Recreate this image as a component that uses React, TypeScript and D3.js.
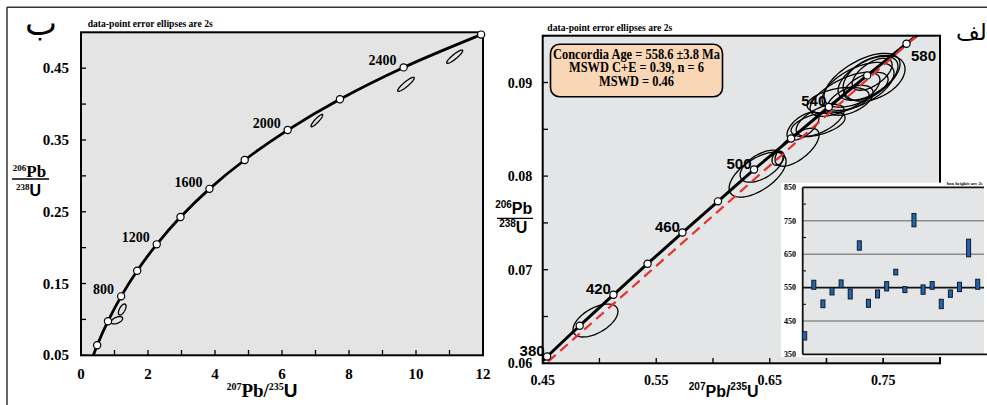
import * as d3 from "d3";

// ---- left panel (ب): whole concordia, markers every 200 Ma ----
const fullAges = [400, 600, 800, 1000, 1200, 1400, 1600, 1800, 2000, 2200, 2400, 2600];
const fullX = [0.4826, 0.8056, 1.1977, 1.6775, 2.2603, 2.9699, 3.834, 4.8866, 6.1688, 7.7296, 9.6298, 11.944];
const fullY = [0.064, 0.0975, 0.1321, 0.1678, 0.2046, 0.2426, 0.2819, 0.3221, 0.3638, 0.4068, 0.4511, 0.4968];
const fullLabelled = [800, 1200, 1600, 2000, 2400];
// where the curve comes in through the bottom axis
const fullStartX = 0.37;
const fullStartY = 0.05;

const leftEllX = [1.069, 1.23, 7.04, 9.7, 11.155];
const leftEllY = [0.0988, 0.1138, 0.377, 0.4275, 0.466];
const leftEllSx = [0.174, 0.114, 0.175, 0.248, 0.239];
const leftEllSy = [0.0051, 0.0077, 0.0086, 0.0098, 0.0093];
const leftEllRho = [0.5, 0.6, 0.9, 0.9, 0.9];

const leftXTicks = [0, 2, 4, 6, 8, 10, 12];
const leftYTicks = [0.05, 0.15, 0.25, 0.35, 0.45];

// ---- right panel (الف): close-up 380-580 Ma ----
const zoomAges = [380, 400, 420, 440, 460, 480, 500, 520, 540, 560, 580];
const zoomX = [0.4539, 0.4826, 0.5123, 0.5424, 0.5731, 0.6044, 0.6362, 0.6688, 0.702, 0.7359, 0.7705];
const zoomY = [0.06072, 0.06401, 0.06732, 0.07064, 0.07397, 0.0773, 0.0807, 0.08401, 0.08738, 0.09076, 0.09414];
const zoomLabelled = [380, 420, 460, 500, 540, 580];
// the curve runs on past both ends of the window
const zoomEndsX = [0.4255, 0.8056];
const zoomEndsY = [0.05743, 0.09754];
// red dashed line
const redX = [0.4549, 0.7795];
const redY = [0.0602, 0.095];

const ellX = [0.4965, 0.6393, 0.6428, 0.6573, 0.6741, 0.6793, 0.6926, 0.6944, 0.7102, 0.7208, 0.7163, 0.7278, 0.7313, 0.7366, 0.7419, 0.7349, 0.7402];
const ellY = [0.06457, 0.08015, 0.08106, 0.08191, 0.08308, 0.08533, 0.08554, 0.08597, 0.0881, 0.0881, 0.08874, 0.08959, 0.09024, 0.09045, 0.09045, 0.08959, 0.09088];
const ellSx = [0.0198, 0.0251, 0.0189, 0.0053, 0.0194, 0.0141, 0.0238, 0.0211, 0.0273, 0.0203, 0.0308, 0.0317, 0.0335, 0.0264, 0.0273, 0.0194, 0.0176];
const ellSy = [0.00176, 0.0024, 0.00171, 0.00075, 0.00203, 0.00149, 0.00133, 0.00171, 0.00139, 0.0016, 0.00235, 0.00256, 0.00288, 0.00235, 0.00245, 0.00149, 0.00171];
const ellRho = [0.55, 0.6, 0.55, 0.3, 0.65, 0.6, 0.5, 0.6, 0.4, 0.5, 0.65, 0.55, 0.6, 0.55, 0.4, 0.5, 0.6];

const zoomXTicks = [0.45, 0.55, 0.65, 0.75];
const zoomYTicks = [0.06, 0.07, 0.08, 0.09];

const ageBox = ["Concordia Age = 558.6 \u00b13.8 Ma", "MSWD  C+E = 0.39, n = 6", "MSWD = 0.46"];

// ---- inset: box heights (2s) ----
const boxLow = [393, 545, 490, 528, 550, 516, 662, 491, 519, 540, 588, 535, 732, 530, 545, 487, 521, 538, 642, 545];
const boxHigh = [418, 572, 513, 550, 573, 546, 690, 515, 543, 568, 605, 553, 772, 558, 568, 515, 543, 566, 695, 575];
const insetTicks = [350, 450, 550, 650, 750, 850];
const insetGrid = [450, 650, 750];
const insetMean = 550;

const SERIF = "'Liberation Serif', 'Times New Roman', serif";
const SANS = "'Liberation Sans', Arial, sans-serif";

function ellipsePath(x: any, y: any, cx: number, cy: number, sx: number, sy: number, rho: number) {
  const k = Math.sqrt(1 - rho * rho);
  const pts = d3.range(73).map((i) => {
    const t = (i / 72) * 2 * Math.PI;
    return [x(cx + sx * Math.cos(t)), y(cy + sy * (rho * Math.cos(t) + k * Math.sin(t)))] as [number, number];
  });
  return d3.line()(pts) + "Z";
}

function LeftPanel() {
  const x = d3.scaleLinear().domain([0, 12]).range([81, 483]);
  const y = d3.scaleLinear().domain([0.05, 0.5]).range([355.3, 32.3]);
  const pts: [number, number][] = [[x(fullStartX), y(fullStartY)], ...fullX.map((v, i) => [x(v), y(fullY[i])] as [number, number])];
  const curve = d3.line().curve(d3.curveCatmullRom.alpha(0.5))(pts);
  return (
    <g>
      <text x={87.7} y={26.5} fontFamily={SERIF} fontWeight="bold" fontSize={9.5} textLength={125} lengthAdjust="spacingAndGlyphs">
        data-point   error ellipses are 2s
      </text>
      <text x={41} y={35} textAnchor="middle" fontFamily="'DejaVu Sans', sans-serif" fontSize={34}>ب</text>
      <rect x={81} y={32.3} width={402} height={323} fill="#e4e4e4" />
      {d3.range(0, 13).map((t) => (
        <line key={t} x1={x(t)} x2={x(t)} y1={355.3} y2={350} stroke="#000" strokeWidth={1.3} />
      ))}
      {d3.range(0.1, 0.45, 0.1).concat(leftYTicks).map((t, i) => (
        <line key={i} x1={81} x2={86} y1={y(t)} y2={y(t)} stroke="#000" strokeWidth={1.3} />
      ))}
      <rect x={81} y={32.3} width={402} height={323} fill="none" stroke="#000" strokeWidth={2} />
      {leftEllX.map((cx, i) => (
        <path key={i} d={ellipsePath(x, y, cx, leftEllY[i], leftEllSx[i], leftEllSy[i], leftEllRho[i])} fill="none" stroke="#000" strokeWidth={1.3} />
      ))}
      <path d={curve || ""} fill="none" stroke="#000" strokeWidth={2.8} />
      {fullX.map((v, i) => (
        <circle key={i} cx={x(v)} cy={y(fullY[i])} r={3.6} fill="#fff" stroke="#000" strokeWidth={1.2} />
      ))}
      {fullAges.map((a, i) =>
        fullLabelled.includes(a) ? (
          <text key={a} x={x(fullX[i]) - 7} y={y(fullY[i]) - 2.3} textAnchor="end" fontFamily={SERIF} fontWeight="bold" fontSize={14}>
            {a}
          </text>
        ) : null
      )}
      {leftYTicks.map((t) => (
        <text key={t} x={69} y={y(t) + 5} textAnchor="end" fontFamily={SERIF} fontWeight="bold" fontSize={15}>
          {t.toFixed(2)}
        </text>
      ))}
      {leftXTicks.map((t) => (
        <text key={t} x={x(t)} y={378.5} textAnchor="middle" fontFamily={SERIF} fontWeight="bold" fontSize={15}>
          {t}
        </text>
      ))}
      <text x={262} y={397} textAnchor="middle" fontFamily={SERIF} fontWeight="bold" fontSize={19}>
        <tspan fontSize={10} dy={-7}>207</tspan>
        <tspan dy={7}>Pb/</tspan>
        <tspan fontSize={10} dy={-7}>235</tspan>
        <tspan dy={7} fontFamily={SANS}>U</tspan>
      </text>
      <text x={29.5} y={177} textAnchor="middle" fontFamily={SERIF} fontWeight="bold" fontSize={17}>
        <tspan fontSize={9} dy={-6}>206</tspan>
        <tspan dy={6}>Pb</tspan>
      </text>
      <line x1={12} x2={49} y1={179} y2={179} stroke="#000" strokeWidth={1.3} />
      <text x={28.5} y={196} textAnchor="middle" fontFamily={SERIF} fontWeight="bold" fontSize={16}>
        <tspan fontSize={9} dy={-6}>238</tspan>
        <tspan dy={6} fontFamily={SANS}>U</tspan>
      </text>
    </g>
  );
}

function RightPanel() {
  const x = d3.scaleLinear().domain([0.45, 0.8]).range([542.7, 940]);
  const y = d3.scaleLinear().domain([0.06, 0.095]).range([363.3, 35.7]);
  const pts: [number, number][] = [
    [x(zoomEndsX[0]), y(zoomEndsY[0])],
    ...zoomX.map((v, i) => [x(v), y(zoomY[i])] as [number, number]),
    [x(zoomEndsX[1]), y(zoomEndsY[1])],
  ];
  const curve = d3.line().curve(d3.curveCatmullRom.alpha(0.5))(pts);
  const red = d3.line()([[x(redX[0]), y(redY[0])], [x(redX[1]), y(redY[1])]]);

  const iy = d3.scaleLinear().domain([350, 850]).range([354.4, 187.4]);
  const ix = d3.scaleLinear().domain([0, boxLow.length - 1]).range([804.7, 977.7]);

  return (
    <g>
      <defs>
        <clipPath id="zoomClip">
          <rect x={542.7} y={35.7} width={397.3} height={327.6} />
        </clipPath>
      </defs>
      <text x={547.3} y={31} fontFamily={SERIF} fontWeight="bold" fontSize={9.5} textLength={125} lengthAdjust="spacingAndGlyphs">
        data-point   error ellipses are 2s
      </text>
      <text x={956} y={40} fontFamily="'DejaVu Sans', sans-serif" fontSize={23}>الف</text>
      <rect x={542.7} y={35.7} width={397.3} height={327.6} fill="#e4e5e6" />
      {d3.range(0, 8).map((i) => {
        const t = 0.45 + i * 0.05;
        return <line key={i} x1={x(t)} x2={x(t)} y1={363.3} y2={358} stroke="#000" strokeWidth={1.3} />;
      })}
      {d3.range(0, 8).map((i) => {
        const t = 0.06 + i * 0.005;
        return <line key={i} x1={542.7} x2={548} y1={y(t)} y2={y(t)} stroke="#000" strokeWidth={1.3} />;
      })}
      <g clipPath="url(#zoomClip)">
        {ellX.map((cx, i) => (
          <path key={i} d={ellipsePath(x, y, cx, ellY[i], ellSx[i], ellSy[i], ellRho[i])} fill="none" stroke="#000" strokeWidth={1.3} />
        ))}
        <path d={curve || ""} fill="none" stroke="#000" strokeWidth={3} />
        <path d={red || ""} fill="none" stroke="#e8312b" strokeWidth={2.2} strokeDasharray="10 6" />
      </g>
      {zoomX.map((v, i) => (
        <circle key={i} cx={x(v)} cy={y(zoomY[i])} r={3.6} fill="#fff" stroke="#000" strokeWidth={1.2} />
      ))}
      <rect x={542.7} y={35.7} width={397.3} height={327.6} fill="none" stroke="#000" strokeWidth={2} />
      {zoomAges.map((a, i) => {
        if (!zoomLabelled.includes(a)) return null;
        const last = i === zoomAges.length - 1;
        return (
          <text
            key={a}
            x={x(zoomX[i]) + (last ? 4.5 : -2.5)}
            y={y(zoomY[i]) + (last ? 17 : -1)}
            textAnchor={last ? "start" : "end"}
            fontFamily={SANS}
            fontSize={15}
            fontWeight="bold"
          >
            {a}
          </text>
        );
      })}
      <rect x={550.5} y={44.3} width={172} height={52.4} rx={9} fill="#f9d6b5" stroke="#000" strokeWidth={1.6} />
      {ageBox.map((s, i) => (
        <text
          key={i}
          x={636.5}
          y={59 + i * 13.4}
          textAnchor="middle"
          fontFamily={SERIF}
          fontWeight="bold"
          fontSize={14}
          textLength={[167, 135, 75][i]}
          lengthAdjust="spacingAndGlyphs"
        >
          {s}
        </text>
      ))}
      {zoomYTicks.map((t) => (
        <text key={t} x={532.3} y={y(t) + 5} textAnchor="end" fontFamily={SERIF} fontWeight="bold" fontSize={14}>
          {t.toFixed(2)}
        </text>
      ))}
      {zoomXTicks.map((t) => (
        <text key={t} x={x(t)} y={385} textAnchor="middle" fontFamily={SERIF} fontWeight="bold" fontSize={14}>
          {t.toFixed(2)}
        </text>
      ))}
      <text x={723.7} y={397} textAnchor="middle" fontFamily={SANS} fontWeight="bold" fontSize={16}>
        <tspan fontSize={10} dy={-7}>207</tspan>
        <tspan dy={7}>Pb/</tspan>
        <tspan fontSize={10} dy={-7}>235</tspan>
        <tspan dy={7}>U</tspan>
      </text>
      <text x={513.7} y={214} textAnchor="middle" fontFamily={SANS} fontWeight="bold" fontSize={16}>
        <tspan fontSize={10} dy={-6}>206</tspan>
        <tspan dy={6}>Pb</tspan>
      </text>
      <line x1={497} x2={533} y1={218.3} y2={218.3} stroke="#000" strokeWidth={1.3} />
      <text x={513.3} y={233} textAnchor="middle" fontFamily={SANS} fontWeight="bold" fontSize={16}>
        <tspan fontSize={10} dy={-6}>238</tspan>
        <tspan dy={6}>U</tspan>
      </text>

      {/* inset */}
      <rect x={781} y={182.7} width={210} height={174.3} fill="#fff" />
      <rect x={802.7} y={187.4} width={181.3} height={167} fill="#e4e5e6" />
      {insetGrid.map((g) => (
        <line key={g} x1={802.7} x2={984} y1={iy(g)} y2={iy(g)} stroke="#8c8c8c" strokeWidth={1.6} />
      ))}
      <line x1={802.7} x2={984} y1={iy(insetMean)} y2={iy(insetMean)} stroke="#111" strokeWidth={1.8} />
      {d3.range(400, 850, 100).map((t) => (
        <line key={t} x1={802.7} x2={806} y1={iy(t)} y2={iy(t)} stroke="#000" strokeWidth={1} />
      ))}
      <line x1={802.7} x2={984} y1={187.4} y2={187.4} stroke="#111" strokeWidth={1.6} />
      <line x1={802.7} x2={802.7} y1={187.4} y2={354.4} stroke="#111" strokeWidth={1.8} />
      <line x1={802.7} x2={987} y1={354.4} y2={354.4} stroke="#111" strokeWidth={1.8} />
      {boxLow.map((lo, i) => (
        <rect key={i} x={ix(i) - 2} y={iy(boxHigh[i])} width={4} height={iy(lo) - iy(boxHigh[i])} fill="#2466ad" stroke="#0d1a2a" strokeWidth={1} />
      ))}
      {insetTicks.map((t) => (
        <text key={t} x={796} y={iy(t) + 2.8} textAnchor="end" fontFamily={SERIF} fontWeight="bold" fontSize={8}>
          {t}
        </text>
      ))}
      <text x={946.7} y={185} fontFamily={SERIF} fontWeight="bold" fontSize={5} textLength={36} lengthAdjust="spacingAndGlyphs">
        box heights are 2s
      </text>
      {/* x-axis ticks show through under the inset */}
      {[0.7, 0.75, 0.8].map((t) => (
        <line key={t} x1={x(t)} x2={x(t)} y1={363.3} y2={358} stroke="#000" strokeWidth={1.3} />
      ))}
    </g>
  );
}

export default function App() {
  return (
    <svg width={987} height={405} style={{ position: "absolute", left: 0, top: 0, background: "#fff" }}>
      <rect width={987} height={405} fill="#fff" />
      <line x1={7} x2={987} y1={7.3} y2={7.3} stroke="#333" strokeWidth={1.5} />
      <line x1={7} x2={7} y1={7} y2={405} stroke="#333" strokeWidth={1.5} />
      <LeftPanel />
      <RightPanel />
    </svg>
  );
}
